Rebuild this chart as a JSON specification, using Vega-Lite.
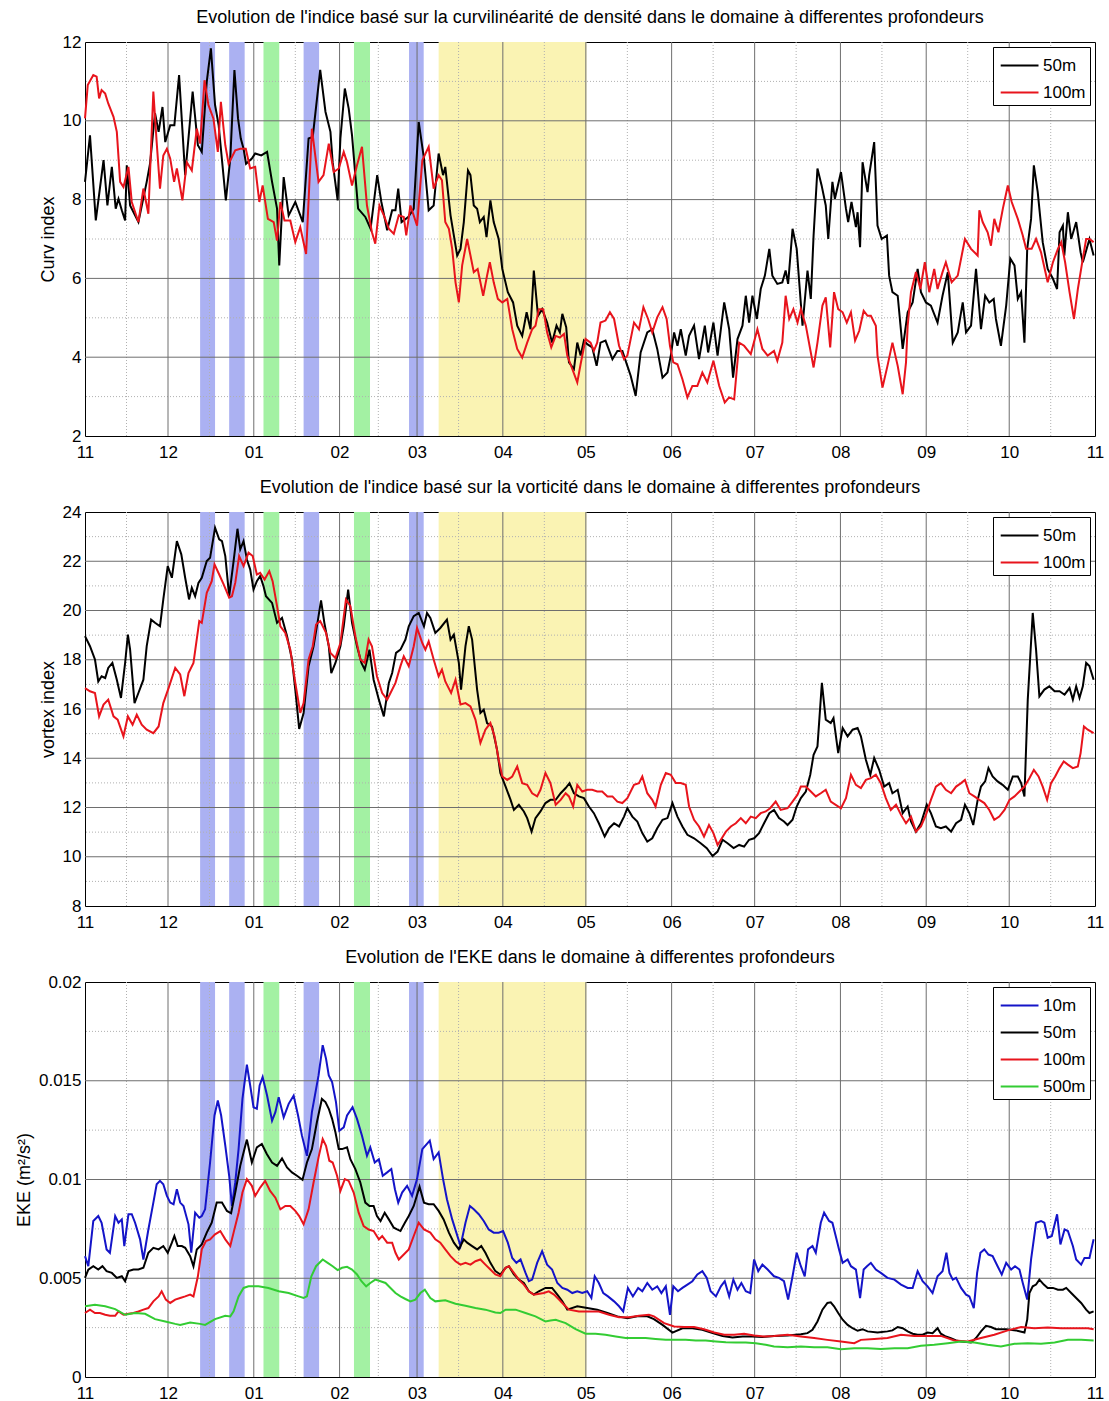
{
"$schema":"https://vega.github.io/schema/vega-lite/v6.json",
"background":"white",
"padding":{"left":14,"top":8,"right":12,"bottom":0},
"spacing":17,
"config":{
"font":"Liberation Sans",
"view":{"stroke":"black","strokeWidth":1},
"axis":{"grid":false,"ticks":false,"domain":false,"labelColor":"black","labelFontSize":17,"titleColor":"black","titleFontSize":18,"titleFontWeight":"normal","labelFlush":false,"labelOverlap":false},
"title":{"fontSize":18,"fontWeight":"normal","color":"black","offset":6},
"legend":{"orient":"top-right","offset":5,"padding":4,"strokeColor":"black","fillColor":"white","symbolType":"M-0.8,0H2","symbolSize":729,"symbolStrokeWidth":2,"labelFontSize":17,"labelColor":"black","rowPadding":4,"labelOffset":17}
},
"resolve":{"scale":{"color":"independent"}},
"datasets":{
"bands":[{"d":41.6,"d2":47.0,"k":"b"},{"d":52.1,"d2":57.7,"k":"b"},{"d":64.5,"d2":70.2,"k":"g"},{"d":79.0,"d2":84.6,"k":"b"},{"d":97.2,"d2":103.0,"k":"g"},{"d":117.1,"d2":122.4,"k":"b"},{"d":127.8,"d2":181.2,"k":"y"}],
"vmaj":[{"d":30},{"d":61},{"d":92},{"d":120},{"d":151},{"d":181},{"d":212},{"d":242},{"d":273},{"d":304},{"d":334}],
"vmin":[{"d":15},{"d":45},{"d":76},{"d":106},{"d":135},{"d":166},{"d":196},{"d":227},{"d":257},{"d":288},{"d":319},{"d":349}],
"p1":[
{"s":"50m","d":0,"v":8.45},{"s":"50m","d":1.8,"v":9.63},{"s":"50m","d":3.9,"v":7.47},{"s":"50m","d":6.7,"v":9.0},{"s":"50m","d":8.1,"v":7.85},{"s":"50m","d":9.7,"v":8.83},{"s":"50m","d":11.1,"v":7.77},{"s":"50m","d":12.1,"v":8.02},{"s":"50m","d":13.3,"v":7.73},{"s":"50m","d":14.5,"v":7.47},{"s":"50m","d":15.1,"v":8.87},{"s":"50m","d":16.3,"v":7.85},{"s":"50m","d":19.3,"v":7.43},{"s":"50m","d":22.3,"v":8.45},{"s":"50m","d":23.5,"v":8.91},{"s":"50m","d":25.3,"v":10.19},{"s":"50m","d":26.6,"v":9.72},{"s":"50m","d":28.0,"v":10.35},{"s":"50m","d":29.0,"v":9.46},{"s":"50m","d":30.8,"v":9.89},{"s":"50m","d":32.3,"v":9.89},{"s":"50m","d":34.0,"v":11.16},{"s":"50m","d":36.2,"v":8.62},{"s":"50m","d":38.9,"v":10.74},{"s":"50m","d":40.8,"v":9.38},{"s":"50m","d":42.2,"v":9.21},{"s":"50m","d":44.0,"v":10.99},{"s":"50m","d":45.5,"v":11.84},{"s":"50m","d":47.0,"v":10.4},{"s":"50m","d":48.3,"v":9.89},{"s":"50m","d":50.9,"v":7.98},{"s":"50m","d":52.5,"v":9.04},{"s":"50m","d":54.0,"v":11.29},{"s":"50m","d":55.3,"v":10.06},{"s":"50m","d":56.3,"v":9.55},{"s":"50m","d":57.3,"v":9.29},{"s":"50m","d":58.2,"v":8.91},{"s":"50m","d":60.3,"v":9.04},{"s":"50m","d":61.5,"v":9.17},{"s":"50m","d":63.7,"v":9.12},{"s":"50m","d":65.8,"v":9.21},{"s":"50m","d":67.6,"v":8.45},{"s":"50m","d":69.4,"v":7.77},{"s":"50m","d":70.2,"v":6.33},{"s":"50m","d":71.8,"v":8.57},{"s":"50m","d":73.6,"v":7.6},{"s":"50m","d":76.0,"v":7.94},{"s":"50m","d":78.7,"v":7.43},{"s":"50m","d":80.8,"v":9.55},{"s":"50m","d":82.3,"v":9.59},{"s":"50m","d":85.0,"v":11.29},{"s":"50m","d":86.9,"v":10.23},{"s":"50m","d":88.7,"v":9.72},{"s":"50m","d":89.5,"v":8.95},{"s":"50m","d":91.3,"v":7.98},{"s":"50m","d":92.3,"v":9.55},{"s":"50m","d":93.9,"v":10.82},{"s":"50m","d":95.3,"v":10.31},{"s":"50m","d":96.5,"v":9.63},{"s":"50m","d":98.7,"v":7.77},{"s":"50m","d":101.3,"v":7.56},{"s":"50m","d":103.2,"v":7.26},{"s":"50m","d":105.6,"v":8.62},{"s":"50m","d":107.1,"v":7.94},{"s":"50m","d":109.2,"v":7.22},{"s":"50m","d":111.0,"v":7.73},{"s":"50m","d":112.2,"v":7.73},{"s":"50m","d":113.2,"v":8.28},{"s":"50m","d":114.4,"v":7.43},{"s":"50m","d":116.8,"v":7.56},{"s":"50m","d":118.8,"v":7.77},{"s":"50m","d":120.6,"v":9.97},{"s":"50m","d":122.5,"v":9.04},
{"s":"50m","d":124.2,"v":7.73},{"s":"50m","d":126.0,"v":7.85},{"s":"50m","d":127.8,"v":9.17},{"s":"50m","d":129.4,"v":8.62},{"s":"50m","d":130.2,"v":8.83},{"s":"50m","d":132.1,"v":7.6},{"s":"50m","d":134.5,"v":6.58},{"s":"50m","d":135.7,"v":6.75},{"s":"50m","d":136.9,"v":7.43},{"s":"50m","d":138.4,"v":8.74},{"s":"50m","d":139.3,"v":8.62},{"s":"50m","d":140.5,"v":7.85},{"s":"50m","d":141.7,"v":7.77},{"s":"50m","d":142.7,"v":7.43},{"s":"50m","d":144.1,"v":7.56},{"s":"50m","d":145.1,"v":7.05},{"s":"50m","d":146.5,"v":7.98},{"s":"50m","d":147.7,"v":7.43},{"s":"50m","d":149.5,"v":7.0},{"s":"50m","d":150.8,"v":6.24},{"s":"50m","d":152.8,"v":5.65},{"s":"50m","d":154.7,"v":5.39},{"s":"50m","d":156.2,"v":4.8},{"s":"50m","d":158.0,"v":4.54},{"s":"50m","d":159.6,"v":5.14},{"s":"50m","d":161.0,"v":4.71},{"s":"50m","d":162.2,"v":6.2},{"s":"50m","d":163.7,"v":5.05},{"s":"50m","d":165.2,"v":5.22},{"s":"50m","d":167.0,"v":4.88},{"s":"50m","d":168.8,"v":4.37},{"s":"50m","d":170.4,"v":4.8},{"s":"50m","d":171.6,"v":4.63},{"s":"50m","d":172.5,"v":5.1},{"s":"50m","d":173.9,"v":4.76},{"s":"50m","d":174.9,"v":3.87},{"s":"50m","d":176.7,"v":3.7},{"s":"50m","d":177.9,"v":4.37},{"s":"50m","d":179.1,"v":4.04},{"s":"50m","d":180.3,"v":4.42},{"s":"50m","d":181.5,"v":4.33},{"s":"50m","d":183.3,"v":4.25},{"s":"50m","d":184.9,"v":3.78},{"s":"50m","d":186.3,"v":4.37},{"s":"50m","d":188.1,"v":4.42},{"s":"50m","d":190.6,"v":3.95},{"s":"50m","d":192.4,"v":4.16},{"s":"50m","d":194.2,"v":4.16},{"s":"50m","d":196.0,"v":3.78},{"s":"50m","d":197.2,"v":3.53},{"s":"50m","d":199.0,"v":3.02},{"s":"50m","d":200.8,"v":4.12},{"s":"50m","d":203.2,"v":4.63},{"s":"50m","d":205.0,"v":4.71},{"s":"50m","d":206.8,"v":4.21},{"s":"50m","d":208.7,"v":3.48},{"s":"50m","d":210.5,"v":3.61},{"s":"50m","d":211.7,"v":4.04},{"s":"50m","d":212.9,"v":4.63},{"s":"50m","d":214.1,"v":4.29},{"s":"50m","d":215.3,"v":4.71},{"s":"50m","d":217.1,"v":4.04},{"s":"50m","d":218.3,"v":4.54},{"s":"50m","d":220.1,"v":4.8},{"s":"50m","d":221.9,"v":3.95},{"s":"50m","d":224.0,"v":4.8},{"s":"50m","d":225.2,"v":4.12},{"s":"50m","d":227.1,"v":4.88},{"s":"50m","d":228.6,"v":4.04},{"s":"50m","d":231.0,"v":5.39},{"s":"50m","d":232.8,"v":4.71},{"s":"50m","d":234.2,"v":3.48},{"s":"50m","d":235.8,"v":4.46},{"s":"50m","d":237.6,"v":4.8},{"s":"50m","d":238.8,"v":5.56},{"s":"50m","d":240.0,"v":4.88},{"s":"50m","d":241.2,"v":5.56},{"s":"50m","d":242.8,"v":4.97},{"s":"50m","d":244.2,"v":5.73},{"s":"50m","d":245.7,"v":6.07},{"s":"50m","d":247.3,"v":6.75},{"s":"50m","d":248.4,"v":6.07},
{"s":"50m","d":250.2,"v":5.86},{"s":"50m","d":252.0,"v":5.9},{"s":"50m","d":253.2,"v":6.2},{"s":"50m","d":254.1,"v":5.86},{"s":"50m","d":255.7,"v":7.26},{"s":"50m","d":257.2,"v":6.75},{"s":"50m","d":259.3,"v":4.8},{"s":"50m","d":261.1,"v":6.2},{"s":"50m","d":262.3,"v":5.48},{"s":"50m","d":263.3,"v":7.09},{"s":"50m","d":264.7,"v":8.79},{"s":"50m","d":266.2,"v":8.36},{"s":"50m","d":267.7,"v":7.85},{"s":"50m","d":268.6,"v":7.0},{"s":"50m","d":270.1,"v":8.45},{"s":"50m","d":271.0,"v":8.02},{"s":"50m","d":273.2,"v":8.7},{"s":"50m","d":275.0,"v":7.77},{"s":"50m","d":275.8,"v":7.43},{"s":"50m","d":277.0,"v":7.94},{"s":"50m","d":278.6,"v":7.3},{"s":"50m","d":279.2,"v":7.68},{"s":"50m","d":280.1,"v":6.79},{"s":"50m","d":281.0,"v":8.95},{"s":"50m","d":282.8,"v":8.19},{"s":"50m","d":283.4,"v":8.62},{"s":"50m","d":285.2,"v":9.46},{"s":"50m","d":286.4,"v":7.34},{"s":"50m","d":287.9,"v":7.0},{"s":"50m","d":289.8,"v":7.09},{"s":"50m","d":290.6,"v":6.07},{"s":"50m","d":291.8,"v":5.65},{"s":"50m","d":293.7,"v":5.56},{"s":"50m","d":295.5,"v":4.21},{"s":"50m","d":297.3,"v":5.14},{"s":"50m","d":299.1,"v":5.39},{"s":"50m","d":300.9,"v":6.24},{"s":"50m","d":302.1,"v":5.65},{"s":"50m","d":303.9,"v":5.39},{"s":"50m","d":305.7,"v":5.31},{"s":"50m","d":308.1,"v":4.88},{"s":"50m","d":309.9,"v":5.56},{"s":"50m","d":311.8,"v":6.16},{"s":"50m","d":313.6,"v":4.37},{"s":"50m","d":315.4,"v":4.63},{"s":"50m","d":317.2,"v":5.39},{"s":"50m","d":318.4,"v":4.63},{"s":"50m","d":320.2,"v":4.8},{"s":"50m","d":322.0,"v":6.24},{"s":"50m","d":323.8,"v":4.71},{"s":"50m","d":325.3,"v":5.56},{"s":"50m","d":326.8,"v":5.39},{"s":"50m","d":328.4,"v":5.48},{"s":"50m","d":329.2,"v":4.97},{"s":"50m","d":331.0,"v":4.29},{"s":"50m","d":332.9,"v":5.31},{"s":"50m","d":334.4,"v":6.5},{"s":"50m","d":335.9,"v":6.33},{"s":"50m","d":337.1,"v":5.48},{"s":"50m","d":338.3,"v":5.65},{"s":"50m","d":339.5,"v":4.37},{"s":"50m","d":340.5,"v":6.75},{"s":"50m","d":341.9,"v":7.51},{"s":"50m","d":342.9,"v":8.87},{"s":"50m","d":344.3,"v":8.19},{"s":"50m","d":346.1,"v":6.92},{"s":"50m","d":347.9,"v":6.24},{"s":"50m","d":349.8,"v":5.99},{"s":"50m","d":351.3,"v":5.73},{"s":"50m","d":352.2,"v":7.17},{"s":"50m","d":353.4,"v":7.34},{"s":"50m","d":353.9,"v":6.58},{"s":"50m","d":355.2,"v":7.68},{"s":"50m","d":356.4,"v":7.0},{"s":"50m","d":358.2,"v":7.43},{"s":"50m","d":359.8,"v":6.66},{"s":"50m","d":360.6,"v":6.41},{"s":"50m","d":363.0,"v":7.0},{"s":"50m","d":364.5,"v":6.58},
{"s":"100m","d":0,"v":10.06},{"s":"100m","d":1.0,"v":10.91},{"s":"100m","d":3.0,"v":11.16},{"s":"100m","d":4.2,"v":11.12},{"s":"100m","d":5.1,"v":10.57},{"s":"100m","d":6.0,"v":10.78},{"s":"100m","d":7.3,"v":10.69},{"s":"100m","d":8.4,"v":10.44},{"s":"100m","d":10.3,"v":10.1},{"s":"100m","d":11.5,"v":9.72},{"s":"100m","d":12.7,"v":8.45},{"s":"100m","d":13.9,"v":8.32},{"s":"100m","d":15.7,"v":8.83},{"s":"100m","d":16.9,"v":7.94},{"s":"100m","d":19.3,"v":7.43},{"s":"100m","d":21.1,"v":8.28},{"s":"100m","d":22.9,"v":7.64},{"s":"100m","d":24.7,"v":10.74},{"s":"100m","d":25.9,"v":9.46},{"s":"100m","d":27.1,"v":8.28},{"s":"100m","d":28.3,"v":9.12},{"s":"100m","d":29.6,"v":9.29},{"s":"100m","d":30.8,"v":9.04},{"s":"100m","d":32.2,"v":8.45},{"s":"100m","d":33.2,"v":8.79},{"s":"100m","d":35.2,"v":7.98},{"s":"100m","d":36.8,"v":8.95},{"s":"100m","d":38.6,"v":8.74},{"s":"100m","d":40.4,"v":9.8},{"s":"100m","d":41.6,"v":9.42},{"s":"100m","d":43.2,"v":11.03},{"s":"100m","d":44.6,"v":10.4},{"s":"100m","d":46.4,"v":10.06},{"s":"100m","d":48.0,"v":9.21},{"s":"100m","d":49.1,"v":10.48},{"s":"100m","d":50.7,"v":9.38},{"s":"100m","d":51.9,"v":8.91},{"s":"100m","d":54.3,"v":9.25},{"s":"100m","d":56.1,"v":9.29},{"s":"100m","d":58.1,"v":9.29},{"s":"100m","d":59.7,"v":8.79},{"s":"100m","d":61.5,"v":8.83},{"s":"100m","d":63.0,"v":7.94},{"s":"100m","d":64.2,"v":8.36},{"s":"100m","d":66.1,"v":7.51},{"s":"100m","d":68.2,"v":7.43},{"s":"100m","d":69.4,"v":6.96},{"s":"100m","d":70.6,"v":7.94},{"s":"100m","d":72.1,"v":7.47},{"s":"100m","d":74.2,"v":7.47},{"s":"100m","d":76.0,"v":6.92},{"s":"100m","d":77.8,"v":7.3},{"s":"100m","d":79.9,"v":6.62},{"s":"100m","d":82.0,"v":9.8},{"s":"100m","d":84.4,"v":8.45},{"s":"100m","d":86.2,"v":8.62},{"s":"100m","d":88.1,"v":9.42},{"s":"100m","d":89.9,"v":8.7},{"s":"100m","d":91.7,"v":8.79},{"s":"100m","d":93.5,"v":9.21},{"s":"100m","d":94.7,"v":8.95},{"s":"100m","d":96.5,"v":8.36},{"s":"100m","d":98.3,"v":8.87},{"s":"100m","d":100.1,"v":9.34},{"s":"100m","d":101.9,"v":7.85},{"s":"100m","d":103.7,"v":7.17},{"s":"100m","d":104.9,"v":6.88},{"s":"100m","d":106.4,"v":7.85},{"s":"100m","d":108.0,"v":7.6},{"s":"100m","d":109.8,"v":7.26},{"s":"100m","d":111.6,"v":7.13},{"s":"100m","d":113.4,"v":7.6},{"s":"100m","d":115.2,"v":7.56},{"s":"100m","d":116.1,"v":7.09},{"s":"100m","d":117.6,"v":7.85},{"s":"100m","d":120.0,"v":7.34},{"s":"100m","d":121.9,"v":9.0},
{"s":"100m","d":124.2,"v":9.34},{"s":"100m","d":126.0,"v":8.28},{"s":"100m","d":127.8,"v":8.62},{"s":"100m","d":129.0,"v":8.49},{"s":"100m","d":130.2,"v":7.43},{"s":"100m","d":131.5,"v":7.26},{"s":"100m","d":132.7,"v":6.75},{"s":"100m","d":133.9,"v":5.9},{"s":"100m","d":135.1,"v":5.39},{"s":"100m","d":136.3,"v":6.33},{"s":"100m","d":138.1,"v":7.0},{"s":"100m","d":139.3,"v":6.58},{"s":"100m","d":140.5,"v":6.16},{"s":"100m","d":141.9,"v":6.24},{"s":"100m","d":143.9,"v":5.56},{"s":"100m","d":145.3,"v":6.07},{"s":"100m","d":146.3,"v":6.41},{"s":"100m","d":147.7,"v":5.9},{"s":"100m","d":149.2,"v":5.48},{"s":"100m","d":150.8,"v":5.39},{"s":"100m","d":152.6,"v":5.48},{"s":"100m","d":154.4,"v":4.71},{"s":"100m","d":156.2,"v":4.21},{"s":"100m","d":158.0,"v":3.99},{"s":"100m","d":159.8,"v":4.37},{"s":"100m","d":161.6,"v":4.71},{"s":"100m","d":162.8,"v":4.8},{"s":"100m","d":164.0,"v":5.22},{"s":"100m","d":165.6,"v":5.22},{"s":"100m","d":167.0,"v":4.63},{"s":"100m","d":168.5,"v":4.25},{"s":"100m","d":170.1,"v":4.54},{"s":"100m","d":171.6,"v":4.5},{"s":"100m","d":173.1,"v":4.59},{"s":"100m","d":174.3,"v":4.04},{"s":"100m","d":176.1,"v":3.7},{"s":"100m","d":177.9,"v":3.36},{"s":"100m","d":179.1,"v":3.82},{"s":"100m","d":180.9,"v":4.46},{"s":"100m","d":182.7,"v":4.37},{"s":"100m","d":183.9,"v":4.16},{"s":"100m","d":185.1,"v":4.37},{"s":"100m","d":186.3,"v":4.88},{"s":"100m","d":188.1,"v":4.93},{"s":"100m","d":189.7,"v":5.14},{"s":"100m","d":191.2,"v":4.97},{"s":"100m","d":193.0,"v":4.29},{"s":"100m","d":194.8,"v":3.95},{"s":"100m","d":196.0,"v":4.04},{"s":"100m","d":198.4,"v":4.88},{"s":"100m","d":200.2,"v":4.71},{"s":"100m","d":201.8,"v":5.27},{"s":"100m","d":203.5,"v":4.97},{"s":"100m","d":205.0,"v":4.63},{"s":"100m","d":206.8,"v":5.01},{"s":"100m","d":208.7,"v":5.27},{"s":"100m","d":210.2,"v":4.97},{"s":"100m","d":211.4,"v":4.29},{"s":"100m","d":212.6,"v":3.87},{"s":"100m","d":214.1,"v":3.82},{"s":"100m","d":215.9,"v":3.44},{"s":"100m","d":217.7,"v":2.98},{"s":"100m","d":219.5,"v":3.27},{"s":"100m","d":221.3,"v":3.27},{"s":"100m","d":223.1,"v":3.61},{"s":"100m","d":224.9,"v":3.36},{"s":"100m","d":227.1,"v":3.91},{"s":"100m","d":229.2,"v":3.27},{"s":"100m","d":231.2,"v":2.85},{"s":"100m","d":232.8,"v":2.98},{"s":"100m","d":234.6,"v":2.93},{"s":"100m","d":236.4,"v":4.37},{"s":"100m","d":238.2,"v":4.29},{"s":"100m","d":240.6,"v":4.08},{"s":"100m","d":243.0,"v":4.71},{"s":"100m","d":244.8,"v":4.21},{"s":"100m","d":246.7,"v":4.04},
{"s":"100m","d":249.0,"v":4.16},{"s":"100m","d":250.2,"v":3.91},{"s":"100m","d":252.0,"v":4.37},{"s":"100m","d":253.2,"v":5.56},{"s":"100m","d":254.5,"v":4.97},{"s":"100m","d":256.0,"v":5.22},{"s":"100m","d":257.5,"v":4.88},{"s":"100m","d":258.7,"v":5.22},{"s":"100m","d":260.5,"v":4.8},{"s":"100m","d":263.3,"v":3.74},{"s":"100m","d":264.7,"v":4.37},{"s":"100m","d":266.5,"v":5.31},{"s":"100m","d":267.7,"v":5.52},{"s":"100m","d":269.3,"v":4.25},{"s":"100m","d":270.7,"v":5.65},{"s":"100m","d":272.2,"v":5.22},{"s":"100m","d":273.8,"v":5.14},{"s":"100m","d":275.3,"v":4.88},{"s":"100m","d":276.8,"v":5.14},{"s":"100m","d":278.3,"v":4.42},{"s":"100m","d":279.8,"v":4.67},{"s":"100m","d":281.4,"v":5.18},{"s":"100m","d":282.8,"v":5.05},{"s":"100m","d":284.0,"v":5.05},{"s":"100m","d":285.8,"v":4.8},{"s":"100m","d":286.4,"v":4.04},{"s":"100m","d":288.2,"v":3.23},{"s":"100m","d":290.0,"v":3.78},{"s":"100m","d":291.8,"v":4.37},{"s":"100m","d":293.7,"v":3.78},{"s":"100m","d":295.5,"v":3.06},{"s":"100m","d":296.7,"v":3.87},{"s":"100m","d":297.3,"v":4.8},{"s":"100m","d":298.5,"v":5.65},{"s":"100m","d":300.3,"v":6.16},{"s":"100m","d":301.9,"v":5.73},{"s":"100m","d":303.5,"v":6.41},{"s":"100m","d":305.1,"v":5.65},{"s":"100m","d":306.9,"v":6.24},{"s":"100m","d":308.1,"v":5.73},{"s":"100m","d":309.9,"v":6.16},{"s":"100m","d":311.1,"v":6.41},{"s":"100m","d":313.2,"v":5.9},{"s":"100m","d":315.4,"v":6.07},{"s":"100m","d":318.0,"v":7.0},{"s":"100m","d":320.2,"v":6.75},{"s":"100m","d":322.6,"v":6.58},{"s":"100m","d":323.2,"v":7.73},{"s":"100m","d":324.4,"v":7.43},{"s":"100m","d":326.2,"v":7.17},{"s":"100m","d":327.4,"v":6.83},{"s":"100m","d":328.6,"v":7.51},{"s":"100m","d":330.1,"v":7.17},{"s":"100m","d":331.7,"v":7.77},{"s":"100m","d":333.5,"v":8.36},{"s":"100m","d":334.9,"v":7.94},{"s":"100m","d":337.1,"v":7.51},{"s":"100m","d":338.9,"v":7.09},{"s":"100m","d":340.1,"v":6.75},{"s":"100m","d":342.1,"v":6.75},{"s":"100m","d":343.7,"v":7.0},{"s":"100m","d":345.5,"v":6.66},{"s":"100m","d":347.9,"v":5.9},{"s":"100m","d":349.8,"v":6.41},{"s":"100m","d":351.6,"v":6.75},{"s":"100m","d":352.8,"v":6.92},{"s":"100m","d":354.2,"v":6.41},{"s":"100m","d":355.8,"v":5.65},{"s":"100m","d":357.4,"v":4.97},{"s":"100m","d":358.8,"v":5.73},{"s":"100m","d":360.2,"v":6.33},{"s":"100m","d":361.8,"v":7.0},{"s":"100m","d":363.0,"v":7.0},{"s":"100m","d":364.5,"v":6.92}
],
"p2":[
{"s":"50m","d":0,"v":18.96},{"s":"50m","d":1.8,"v":18.55},{"s":"50m","d":3.6,"v":18.01},{"s":"50m","d":4.8,"v":17.12},{"s":"50m","d":6.0,"v":17.33},{"s":"50m","d":7.3,"v":17.26},{"s":"50m","d":8.4,"v":17.67},{"s":"50m","d":9.9,"v":17.87},{"s":"50m","d":11.5,"v":17.19},{"s":"50m","d":13.0,"v":16.45},{"s":"50m","d":14.5,"v":17.87},{"s":"50m","d":15.5,"v":19.02},{"s":"50m","d":16.3,"v":18.41},{"s":"50m","d":17.9,"v":16.24},{"s":"50m","d":19.3,"v":16.65},{"s":"50m","d":21.1,"v":17.19},{"s":"50m","d":22.3,"v":18.55},{"s":"50m","d":23.9,"v":19.63},{"s":"50m","d":25.3,"v":19.5},{"s":"50m","d":27.1,"v":19.36},{"s":"50m","d":28.3,"v":20.45},{"s":"50m","d":29.9,"v":21.8},{"s":"50m","d":31.4,"v":21.33},{"s":"50m","d":33.2,"v":22.82},{"s":"50m","d":34.8,"v":22.28},{"s":"50m","d":36.2,"v":21.33},{"s":"50m","d":37.6,"v":20.45},{"s":"50m","d":38.6,"v":20.92},{"s":"50m","d":39.8,"v":20.58},{"s":"50m","d":41.0,"v":21.12},{"s":"50m","d":42.2,"v":21.33},{"s":"50m","d":44.0,"v":22.01},{"s":"50m","d":45.2,"v":22.14},{"s":"50m","d":47.0,"v":23.36},{"s":"50m","d":48.5,"v":22.89},{"s":"50m","d":49.5,"v":22.82},{"s":"50m","d":50.7,"v":22.21},{"s":"50m","d":52.1,"v":20.58},{"s":"50m","d":53.7,"v":22.01},{"s":"50m","d":55.1,"v":23.32},{"s":"50m","d":56.1,"v":22.48},{"s":"50m","d":57.3,"v":22.82},{"s":"50m","d":58.5,"v":22.07},{"s":"50m","d":59.7,"v":21.67},{"s":"50m","d":60.9,"v":20.85},{"s":"50m","d":62.1,"v":21.19},{"s":"50m","d":63.3,"v":21.4},{"s":"50m","d":64.5,"v":20.99},{"s":"50m","d":65.4,"v":20.58},{"s":"50m","d":67.6,"v":20.31},{"s":"50m","d":69.4,"v":19.5},{"s":"50m","d":71.2,"v":19.7},{"s":"50m","d":73.0,"v":18.96},{"s":"50m","d":74.8,"v":18.01},{"s":"50m","d":76.0,"v":16.79},{"s":"50m","d":77.4,"v":15.19},{"s":"50m","d":79.0,"v":15.84},{"s":"50m","d":80.8,"v":17.74},{"s":"50m","d":82.6,"v":18.55},{"s":"50m","d":84.2,"v":19.63},{"s":"50m","d":85.3,"v":20.41},{"s":"50m","d":86.5,"v":19.5},{"s":"50m","d":88.1,"v":18.55},{"s":"50m","d":89.0,"v":17.46},{"s":"50m","d":90.5,"v":17.87},{"s":"50m","d":92.3,"v":18.55},{"s":"50m","d":93.5,"v":19.36},{"s":"50m","d":95.1,"v":20.85},{"s":"50m","d":96.5,"v":19.5},{"s":"50m","d":98.3,"v":18.55},{"s":"50m","d":99.9,"v":17.87},{"s":"50m","d":101.1,"v":17.6},{"s":"50m","d":102.8,"v":18.41},{"s":"50m","d":104.3,"v":17.19},{"s":"50m","d":106.2,"v":16.38},{"s":"50m","d":108.0,"v":15.7},{"s":"50m","d":109.8,"v":17.06},{"s":"50m","d":111.0,"v":17.46},{"s":"50m","d":112.4,"v":18.28},{"s":"50m","d":114.0,"v":18.41},{"s":"50m","d":115.8,"v":18.82},{"s":"50m","d":117.0,"v":19.36},{"s":"50m","d":118.8,"v":19.77},{"s":"50m","d":120.6,"v":19.9},{"s":"50m","d":122.5,"v":19.36},
{"s":"50m","d":123.6,"v":19.9},{"s":"50m","d":124.8,"v":19.7},{"s":"50m","d":126.6,"v":19.09},{"s":"50m","d":128.4,"v":19.29},{"s":"50m","d":130.8,"v":19.63},{"s":"50m","d":132.1,"v":18.82},{"s":"50m","d":133.3,"v":19.02},{"s":"50m","d":135.1,"v":17.87},{"s":"50m","d":135.9,"v":16.79},{"s":"50m","d":137.5,"v":18.55},{"s":"50m","d":138.7,"v":19.36},{"s":"50m","d":139.9,"v":18.82},{"s":"50m","d":141.7,"v":16.79},{"s":"50m","d":142.9,"v":15.84},{"s":"50m","d":144.1,"v":15.97},{"s":"50m","d":145.3,"v":15.43},{"s":"50m","d":147.1,"v":15.29},{"s":"50m","d":148.9,"v":14.35},{"s":"50m","d":150.1,"v":13.4},{"s":"50m","d":152.0,"v":12.85},{"s":"50m","d":153.8,"v":12.31},{"s":"50m","d":155.0,"v":11.9},{"s":"50m","d":156.8,"v":12.11},{"s":"50m","d":158.6,"v":11.84},{"s":"50m","d":159.8,"v":11.57},{"s":"50m","d":161.4,"v":11.02},{"s":"50m","d":162.8,"v":11.57},{"s":"50m","d":164.6,"v":11.84},{"s":"50m","d":166.4,"v":12.18},{"s":"50m","d":168.2,"v":12.31},{"s":"50m","d":170.1,"v":12.31},{"s":"50m","d":171.9,"v":12.58},{"s":"50m","d":173.7,"v":12.79},{"s":"50m","d":175.1,"v":12.99},{"s":"50m","d":176.7,"v":12.58},{"s":"50m","d":178.5,"v":12.45},{"s":"50m","d":180.3,"v":12.38},{"s":"50m","d":182.1,"v":12.04},{"s":"50m","d":183.9,"v":11.77},{"s":"50m","d":185.7,"v":11.36},{"s":"50m","d":187.8,"v":10.82},{"s":"50m","d":189.4,"v":11.16},{"s":"50m","d":191.2,"v":11.36},{"s":"50m","d":193.0,"v":11.23},{"s":"50m","d":194.8,"v":11.63},{"s":"50m","d":196.0,"v":11.97},{"s":"50m","d":197.8,"v":11.63},{"s":"50m","d":199.6,"v":11.43},{"s":"50m","d":201.4,"v":10.96},{"s":"50m","d":203.2,"v":10.62},{"s":"50m","d":205.0,"v":10.75},{"s":"50m","d":206.8,"v":11.16},{"s":"50m","d":208.7,"v":11.5},{"s":"50m","d":210.5,"v":11.57},{"s":"50m","d":212.3,"v":12.18},{"s":"50m","d":214.1,"v":11.63},{"s":"50m","d":215.9,"v":11.23},{"s":"50m","d":217.7,"v":10.89},{"s":"50m","d":220.1,"v":10.75},{"s":"50m","d":222.5,"v":10.55},{"s":"50m","d":224.7,"v":10.35},{"s":"50m","d":226.8,"v":10.03},{"s":"50m","d":228.6,"v":10.21},{"s":"50m","d":230.4,"v":10.69},{"s":"50m","d":232.2,"v":10.55},{"s":"50m","d":234.4,"v":10.35},{"s":"50m","d":236.4,"v":10.48},{"s":"50m","d":238.2,"v":10.41},{"s":"50m","d":240.0,"v":10.69},{"s":"50m","d":241.8,"v":10.75},{"s":"50m","d":243.6,"v":10.96},{"s":"50m","d":245.4,"v":11.36},{"s":"50m","d":247.3,"v":11.77},
{"s":"50m","d":249.0,"v":11.9},{"s":"50m","d":250.8,"v":11.57},{"s":"50m","d":252.6,"v":11.43},{"s":"50m","d":253.9,"v":11.29},{"s":"50m","d":255.7,"v":11.5},{"s":"50m","d":257.2,"v":12.04},{"s":"50m","d":258.7,"v":12.38},{"s":"50m","d":260.5,"v":12.65},{"s":"50m","d":262.1,"v":13.33},{"s":"50m","d":263.3,"v":14.14},{"s":"50m","d":264.7,"v":14.48},{"s":"50m","d":266.3,"v":17.06},{"s":"50m","d":267.7,"v":15.57},{"s":"50m","d":269.5,"v":15.43},{"s":"50m","d":270.5,"v":15.63},{"s":"50m","d":272.2,"v":14.21},{"s":"50m","d":273.8,"v":15.23},{"s":"50m","d":275.6,"v":14.89},{"s":"50m","d":277.4,"v":15.16},{"s":"50m","d":279.2,"v":15.23},{"s":"50m","d":280.4,"v":14.89},{"s":"50m","d":282.2,"v":13.94},{"s":"50m","d":283.8,"v":13.33},{"s":"50m","d":285.2,"v":14.01},{"s":"50m","d":287.0,"v":13.53},{"s":"50m","d":288.8,"v":12.85},{"s":"50m","d":290.6,"v":12.99},{"s":"50m","d":291.8,"v":12.58},{"s":"50m","d":293.7,"v":12.72},{"s":"50m","d":295.5,"v":11.77},{"s":"50m","d":297.3,"v":12.04},{"s":"50m","d":298.5,"v":11.43},{"s":"50m","d":300.3,"v":11.02},{"s":"50m","d":302.1,"v":11.36},{"s":"50m","d":304.2,"v":12.11},{"s":"50m","d":305.7,"v":11.77},{"s":"50m","d":307.5,"v":11.23},{"s":"50m","d":309.3,"v":11.16},{"s":"50m","d":311.1,"v":11.23},{"s":"50m","d":313.0,"v":11.02},{"s":"50m","d":314.8,"v":11.36},{"s":"50m","d":316.6,"v":11.5},{"s":"50m","d":318.0,"v":12.11},{"s":"50m","d":319.6,"v":11.77},{"s":"50m","d":321.0,"v":11.29},{"s":"50m","d":322.6,"v":12.31},{"s":"50m","d":323.8,"v":12.85},{"s":"50m","d":325.3,"v":13.06},{"s":"50m","d":326.5,"v":13.6},{"s":"50m","d":328.0,"v":13.26},{"s":"50m","d":329.8,"v":13.06},{"s":"50m","d":331.6,"v":12.92},{"s":"50m","d":333.5,"v":12.72},{"s":"50m","d":335.3,"v":13.26},{"s":"50m","d":337.1,"v":13.26},{"s":"50m","d":338.3,"v":12.99},{"s":"50m","d":339.5,"v":12.45},{"s":"50m","d":340.7,"v":16.38},{"s":"50m","d":342.5,"v":19.9},{"s":"50m","d":343.7,"v":18.41},{"s":"50m","d":344.9,"v":16.51},{"s":"50m","d":346.7,"v":16.79},{"s":"50m","d":348.5,"v":16.92},{"s":"50m","d":350.4,"v":16.72},{"s":"50m","d":352.2,"v":16.72},{"s":"50m","d":354.0,"v":16.58},{"s":"50m","d":355.8,"v":16.85},{"s":"50m","d":357.0,"v":16.38},{"s":"50m","d":358.2,"v":16.92},{"s":"50m","d":359.4,"v":16.45},{"s":"50m","d":360.6,"v":16.92},{"s":"50m","d":361.8,"v":17.87},{"s":"50m","d":363.0,"v":17.74},{"s":"50m","d":364.5,"v":17.19},
{"s":"100m","d":0,"v":16.85},{"s":"100m","d":1.8,"v":16.72},{"s":"100m","d":3.6,"v":16.65},{"s":"100m","d":5.1,"v":15.7},{"s":"100m","d":6.7,"v":16.18},{"s":"100m","d":8.4,"v":16.38},{"s":"100m","d":10.3,"v":15.7},{"s":"100m","d":11.8,"v":15.57},{"s":"100m","d":13.9,"v":14.89},{"s":"100m","d":15.5,"v":15.7},{"s":"100m","d":17.2,"v":15.36},{"s":"100m","d":18.7,"v":15.77},{"s":"100m","d":20.5,"v":15.36},{"s":"100m","d":22.3,"v":15.16},{"s":"100m","d":24.7,"v":15.02},{"s":"100m","d":26.6,"v":15.29},{"s":"100m","d":28.3,"v":16.24},{"s":"100m","d":30.2,"v":16.85},{"s":"100m","d":32.6,"v":17.67},{"s":"100m","d":34.4,"v":17.4},{"s":"100m","d":35.9,"v":16.52},{"s":"100m","d":37.4,"v":17.46},{"s":"100m","d":39.2,"v":17.87},{"s":"100m","d":41.3,"v":19.57},{"s":"100m","d":42.2,"v":19.5},{"s":"100m","d":44.0,"v":20.72},{"s":"100m","d":45.8,"v":21.19},{"s":"100m","d":46.8,"v":21.87},{"s":"100m","d":48.5,"v":21.46},{"s":"100m","d":50.1,"v":21.06},{"s":"100m","d":52.1,"v":20.52},{"s":"100m","d":53.1,"v":20.58},{"s":"100m","d":54.3,"v":21.12},{"s":"100m","d":55.7,"v":22.21},{"s":"100m","d":57.3,"v":21.8},{"s":"100m","d":59.1,"v":22.35},{"s":"100m","d":60.6,"v":22.21},{"s":"100m","d":62.1,"v":21.46},{"s":"100m","d":63.3,"v":21.53},{"s":"100m","d":64.9,"v":21.26},{"s":"100m","d":66.6,"v":21.6},{"s":"100m","d":67.8,"v":21.19},{"s":"100m","d":69.4,"v":20.18},{"s":"100m","d":70.6,"v":19.36},{"s":"100m","d":72.4,"v":19.09},{"s":"100m","d":74.2,"v":18.41},{"s":"100m","d":76.0,"v":17.06},{"s":"100m","d":77.8,"v":15.84},{"s":"100m","d":79.0,"v":16.24},{"s":"100m","d":80.8,"v":18.01},{"s":"100m","d":82.3,"v":18.55},{"s":"100m","d":83.5,"v":19.43},{"s":"100m","d":85.0,"v":19.57},{"s":"100m","d":87.1,"v":19.09},{"s":"100m","d":88.7,"v":18.28},{"s":"100m","d":90.5,"v":18.07},{"s":"100m","d":92.3,"v":18.68},{"s":"100m","d":94.3,"v":20.45},{"s":"100m","d":95.9,"v":20.18},{"s":"100m","d":97.7,"v":18.96},{"s":"100m","d":99.5,"v":18.01},{"s":"100m","d":101.1,"v":17.87},{"s":"100m","d":102.5,"v":18.82},{"s":"100m","d":103.7,"v":18.55},{"s":"100m","d":105.5,"v":17.33},{"s":"100m","d":107.4,"v":16.65},{"s":"100m","d":109.2,"v":16.38},{"s":"100m","d":110.4,"v":16.65},{"s":"100m","d":112.2,"v":17.06},{"s":"100m","d":114.0,"v":17.74},{"s":"100m","d":115.2,"v":18.14},{"s":"100m","d":117.0,"v":17.74},{"s":"100m","d":118.8,"v":18.55},{"s":"100m","d":120.0,"v":19.29},{"s":"100m","d":121.9,"v":18.68},
{"s":"100m","d":123.0,"v":18.41},{"s":"100m","d":124.2,"v":18.75},{"s":"100m","d":126.0,"v":18.01},{"s":"100m","d":127.8,"v":17.33},{"s":"100m","d":129.0,"v":17.6},{"s":"100m","d":130.2,"v":17.12},{"s":"100m","d":132.3,"v":16.65},{"s":"100m","d":133.9,"v":17.19},{"s":"100m","d":135.7,"v":16.18},{"s":"100m","d":137.5,"v":16.24},{"s":"100m","d":139.3,"v":16.11},{"s":"100m","d":141.1,"v":15.57},{"s":"100m","d":142.9,"v":14.62},{"s":"100m","d":144.7,"v":15.16},{"s":"100m","d":146.5,"v":15.43},{"s":"100m","d":148.0,"v":14.89},{"s":"100m","d":149.5,"v":13.94},{"s":"100m","d":150.8,"v":13.26},{"s":"100m","d":152.6,"v":13.12},{"s":"100m","d":154.4,"v":13.26},{"s":"100m","d":156.2,"v":13.67},{"s":"100m","d":158.0,"v":12.99},{"s":"100m","d":159.8,"v":12.92},{"s":"100m","d":161.6,"v":12.58},{"s":"100m","d":163.4,"v":12.45},{"s":"100m","d":164.6,"v":12.72},{"s":"100m","d":166.4,"v":13.4},{"s":"100m","d":168.2,"v":12.99},{"s":"100m","d":170.1,"v":12.11},{"s":"100m","d":171.9,"v":12.31},{"s":"100m","d":173.7,"v":12.58},{"s":"100m","d":174.9,"v":12.45},{"s":"100m","d":176.4,"v":12.04},{"s":"100m","d":177.9,"v":12.92},{"s":"100m","d":179.7,"v":12.65},{"s":"100m","d":181.5,"v":12.72},{"s":"100m","d":183.3,"v":12.72},{"s":"100m","d":185.1,"v":12.65},{"s":"100m","d":186.9,"v":12.65},{"s":"100m","d":188.8,"v":12.45},{"s":"100m","d":190.6,"v":12.45},{"s":"100m","d":192.4,"v":12.24},{"s":"100m","d":194.2,"v":12.18},{"s":"100m","d":196.0,"v":12.38},{"s":"100m","d":198.4,"v":12.92},{"s":"100m","d":200.2,"v":12.99},{"s":"100m","d":201.4,"v":13.26},{"s":"100m","d":203.2,"v":12.58},{"s":"100m","d":205.0,"v":12.31},{"s":"100m","d":206.2,"v":12.04},{"s":"100m","d":208.1,"v":12.92},{"s":"100m","d":209.9,"v":13.4},{"s":"100m","d":211.7,"v":13.33},{"s":"100m","d":213.5,"v":12.99},{"s":"100m","d":215.3,"v":12.99},{"s":"100m","d":217.1,"v":12.92},{"s":"100m","d":218.3,"v":12.04},{"s":"100m","d":220.1,"v":11.5},{"s":"100m","d":221.9,"v":11.23},{"s":"100m","d":223.7,"v":10.82},{"s":"100m","d":225.5,"v":11.29},{"s":"100m","d":227.1,"v":10.96},{"s":"100m","d":228.6,"v":10.48},{"s":"100m","d":229.8,"v":10.69},{"s":"100m","d":231.6,"v":11.02},{"s":"100m","d":233.4,"v":11.23},{"s":"100m","d":235.2,"v":11.36},{"s":"100m","d":237.0,"v":11.57},{"s":"100m","d":238.8,"v":11.36},{"s":"100m","d":240.6,"v":11.63},{"s":"100m","d":242.4,"v":11.57},{"s":"100m","d":244.2,"v":11.77},{"s":"100m","d":246.0,"v":11.84},{"s":"100m","d":247.6,"v":11.97},
{"s":"100m","d":249.6,"v":12.24},{"s":"100m","d":251.4,"v":11.9},{"s":"100m","d":253.9,"v":11.97},{"s":"100m","d":255.7,"v":12.24},{"s":"100m","d":257.5,"v":12.52},{"s":"100m","d":258.7,"v":12.85},{"s":"100m","d":260.5,"v":12.85},{"s":"100m","d":262.3,"v":12.65},{"s":"100m","d":264.1,"v":12.45},{"s":"100m","d":265.9,"v":12.58},{"s":"100m","d":267.7,"v":12.72},{"s":"100m","d":269.5,"v":12.24},{"s":"100m","d":271.3,"v":12.11},{"s":"100m","d":273.2,"v":11.97},{"s":"100m","d":275.0,"v":12.38},{"s":"100m","d":276.8,"v":13.33},{"s":"100m","d":278.6,"v":12.92},{"s":"100m","d":280.4,"v":12.79},{"s":"100m","d":282.2,"v":13.12},{"s":"100m","d":284.0,"v":13.19},{"s":"100m","d":285.8,"v":13.33},{"s":"100m","d":287.6,"v":12.99},{"s":"100m","d":289.4,"v":12.38},{"s":"100m","d":291.2,"v":11.9},{"s":"100m","d":293.1,"v":12.11},{"s":"100m","d":294.9,"v":11.7},{"s":"100m","d":296.7,"v":11.36},{"s":"100m","d":298.5,"v":11.63},{"s":"100m","d":300.3,"v":11.02},{"s":"100m","d":302.1,"v":11.23},{"s":"100m","d":303.9,"v":11.7},{"s":"100m","d":305.7,"v":12.31},{"s":"100m","d":307.5,"v":12.85},{"s":"100m","d":309.3,"v":12.99},{"s":"100m","d":311.1,"v":12.72},{"s":"100m","d":313.0,"v":12.58},{"s":"100m","d":314.8,"v":12.85},{"s":"100m","d":316.6,"v":12.99},{"s":"100m","d":318.0,"v":13.12},{"s":"100m","d":319.6,"v":12.58},{"s":"100m","d":321.4,"v":12.45},{"s":"100m","d":323.2,"v":12.31},{"s":"100m","d":325.0,"v":12.18},{"s":"100m","d":326.8,"v":11.9},{"s":"100m","d":328.6,"v":11.5},{"s":"100m","d":330.4,"v":11.63},{"s":"100m","d":332.3,"v":11.9},{"s":"100m","d":334.1,"v":12.31},{"s":"100m","d":335.9,"v":12.45},{"s":"100m","d":337.7,"v":12.65},{"s":"100m","d":339.5,"v":12.85},{"s":"100m","d":341.3,"v":13.19},{"s":"100m","d":342.9,"v":13.53},{"s":"100m","d":344.6,"v":13.26},{"s":"100m","d":346.1,"v":12.85},{"s":"100m","d":347.7,"v":12.31},{"s":"100m","d":349.1,"v":12.99},{"s":"100m","d":350.6,"v":13.26},{"s":"100m","d":352.2,"v":13.6},{"s":"100m","d":353.7,"v":13.87},{"s":"100m","d":355.2,"v":13.74},{"s":"100m","d":357.0,"v":13.6},{"s":"100m","d":358.8,"v":13.67},{"s":"100m","d":359.8,"v":14.21},{"s":"100m","d":361.0,"v":15.29},{"s":"100m","d":362.4,"v":15.16},{"s":"100m","d":364.5,"v":15.02}
],
"p3":[
{"s":"10m","d":0,"v":0.00612},{"s":"10m","d":1.2,"v":0.00561},{"s":"10m","d":3.0,"v":0.0079},{"s":"10m","d":4.8,"v":0.00815},{"s":"10m","d":6.0,"v":0.00781},{"s":"10m","d":7.8,"v":0.00646},{"s":"10m","d":9.0,"v":0.00629},{"s":"10m","d":10.9,"v":0.00815},{"s":"10m","d":12.1,"v":0.00781},{"s":"10m","d":13.3,"v":0.00798},{"s":"10m","d":14.2,"v":0.00663},{"s":"10m","d":15.7,"v":0.00824},{"s":"10m","d":16.9,"v":0.00824},{"s":"10m","d":18.1,"v":0.00781},{"s":"10m","d":19.9,"v":0.00697},{"s":"10m","d":21.1,"v":0.00595},{"s":"10m","d":22.9,"v":0.00747},{"s":"10m","d":24.7,"v":0.00883},{"s":"10m","d":25.9,"v":0.00976},{"s":"10m","d":27.1,"v":0.00993},{"s":"10m","d":28.3,"v":0.00976},{"s":"10m","d":29.6,"v":0.00917},{"s":"10m","d":30.8,"v":0.00883},{"s":"10m","d":32.0,"v":0.00875},{"s":"10m","d":33.2,"v":0.00951},{"s":"10m","d":34.4,"v":0.00883},{"s":"10m","d":35.6,"v":0.00866},{"s":"10m","d":37.4,"v":0.00773},{"s":"10m","d":38.4,"v":0.00629},{"s":"10m","d":39.8,"v":0.00832},{"s":"10m","d":41.3,"v":0.00807},{"s":"10m","d":42.2,"v":0.00815},{"s":"10m","d":43.4,"v":0.00849},{"s":"10m","d":45.2,"v":0.01086},{"s":"10m","d":46.8,"v":0.01324},{"s":"10m","d":48.0,"v":0.014},{"s":"10m","d":49.2,"v":0.01324},{"s":"10m","d":50.7,"v":0.01171},{"s":"10m","d":52.1,"v":0.01019},{"s":"10m","d":53.1,"v":0.00866},{"s":"10m","d":54.3,"v":0.00985},{"s":"10m","d":55.5,"v":0.01154},{"s":"10m","d":56.9,"v":0.01408},{"s":"10m","d":58.5,"v":0.01581},{"s":"10m","d":59.7,"v":0.01476},{"s":"10m","d":60.9,"v":0.01366},{"s":"10m","d":62.1,"v":0.01358},{"s":"10m","d":63.1,"v":0.01476},{"s":"10m","d":64.2,"v":0.01519},{"s":"10m","d":65.8,"v":0.01425},{"s":"10m","d":67.6,"v":0.01298},{"s":"10m","d":68.8,"v":0.01341},{"s":"10m","d":70.0,"v":0.01417},{"s":"10m","d":71.8,"v":0.01315},{"s":"10m","d":73.6,"v":0.01383},{"s":"10m","d":75.4,"v":0.01425},{"s":"10m","d":77.0,"v":0.01324},{"s":"10m","d":78.4,"v":0.01222},{"s":"10m","d":80.2,"v":0.0112},{"s":"10m","d":82.0,"v":0.01341},{"s":"10m","d":84.4,"v":0.01527},{"s":"10m","d":85.9,"v":0.0168},{"s":"10m","d":87.1,"v":0.01612},{"s":"10m","d":88.1,"v":0.01527},{"s":"10m","d":89.3,"v":0.01493},{"s":"10m","d":90.7,"v":0.01392},{"s":"10m","d":91.9,"v":0.01247},{"s":"10m","d":93.5,"v":0.01264},{"s":"10m","d":94.7,"v":0.01324},{"s":"10m","d":96.7,"v":0.01366},{"s":"10m","d":98.3,"v":0.01307},{"s":"10m","d":100.1,"v":0.01222},{"s":"10m","d":101.9,"v":0.0112},{"s":"10m","d":103.1,"v":0.01163},{"s":"10m","d":104.7,"v":0.01086},{"s":"10m","d":106.2,"v":0.01103},{"s":"10m","d":107.6,"v":0.01019},{"s":"10m","d":109.2,"v":0.01036},{"s":"10m","d":110.7,"v":0.01053},{"s":"10m","d":112.0,"v":0.00951},{"s":"10m","d":113.2,"v":0.00883},{"s":"10m","d":114.6,"v":0.00934},{"s":"10m","d":116.4,"v":0.00968},{"s":"10m","d":118.2,"v":0.00917},{"s":"10m","d":120.0,"v":0.01002},{"s":"10m","d":121.9,"v":0.01154},
{"s":"10m","d":124.6,"v":0.01197},{"s":"10m","d":126.0,"v":0.01103},{"s":"10m","d":127.8,"v":0.01137},{"s":"10m","d":129.4,"v":0.01002},{"s":"10m","d":130.8,"v":0.009},{"s":"10m","d":132.7,"v":0.00798},{"s":"10m","d":134.2,"v":0.00731},{"s":"10m","d":135.7,"v":0.00663},{"s":"10m","d":137.5,"v":0.00781},{"s":"10m","d":139.1,"v":0.00866},{"s":"10m","d":140.5,"v":0.00849},{"s":"10m","d":142.3,"v":0.00824},{"s":"10m","d":144.1,"v":0.0079},{"s":"10m","d":145.9,"v":0.00747},{"s":"10m","d":147.7,"v":0.00731},{"s":"10m","d":149.5,"v":0.00731},{"s":"10m","d":151.1,"v":0.00739},{"s":"10m","d":152.8,"v":0.0068},{"s":"10m","d":154.4,"v":0.00603},{"s":"10m","d":155.9,"v":0.00578},{"s":"10m","d":157.4,"v":0.00595},{"s":"10m","d":159.2,"v":0.00527},{"s":"10m","d":160.4,"v":0.00485},{"s":"10m","d":161.6,"v":0.00493},{"s":"10m","d":163.4,"v":0.00578},{"s":"10m","d":165.2,"v":0.00637},{"s":"10m","d":167.0,"v":0.00569},{"s":"10m","d":168.8,"v":0.00544},{"s":"10m","d":170.7,"v":0.00476},{"s":"10m","d":172.5,"v":0.00451},{"s":"10m","d":174.3,"v":0.00442},{"s":"10m","d":176.1,"v":0.00425},{"s":"10m","d":177.9,"v":0.00434},{"s":"10m","d":179.7,"v":0.00425},{"s":"10m","d":181.5,"v":0.00434},{"s":"10m","d":183.0,"v":0.004},{"s":"10m","d":184.2,"v":0.0051},{"s":"10m","d":185.7,"v":0.00476},{"s":"10m","d":187.3,"v":0.00425},{"s":"10m","d":189.0,"v":0.00408},{"s":"10m","d":191.2,"v":0.00383},{"s":"10m","d":193.0,"v":0.00358},{"s":"10m","d":194.5,"v":0.00332},{"s":"10m","d":196.2,"v":0.00451},{"s":"10m","d":198.0,"v":0.00408},{"s":"10m","d":199.9,"v":0.00451},{"s":"10m","d":201.4,"v":0.00434},{"s":"10m","d":203.2,"v":0.00476},{"s":"10m","d":205.0,"v":0.00442},{"s":"10m","d":206.8,"v":0.00459},{"s":"10m","d":208.3,"v":0.00425},{"s":"10m","d":209.9,"v":0.00459},{"s":"10m","d":211.4,"v":0.00315},{"s":"10m","d":212.6,"v":0.00459},{"s":"10m","d":214.3,"v":0.00434},{"s":"10m","d":215.9,"v":0.00451},{"s":"10m","d":217.7,"v":0.00468},{"s":"10m","d":219.5,"v":0.00485},{"s":"10m","d":221.3,"v":0.00519},{"s":"10m","d":223.1,"v":0.00536},{"s":"10m","d":224.7,"v":0.00502},{"s":"10m","d":226.1,"v":0.00434},{"s":"10m","d":228.0,"v":0.00408},{"s":"10m","d":229.8,"v":0.00459},{"s":"10m","d":231.2,"v":0.00485},{"s":"10m","d":232.8,"v":0.00408},{"s":"10m","d":234.3,"v":0.00493},{"s":"10m","d":235.8,"v":0.00442},{"s":"10m","d":237.2,"v":0.00476},{"s":"10m","d":238.8,"v":0.00434},{"s":"10m","d":240.4,"v":0.00425},{"s":"10m","d":241.8,"v":0.00595},{"s":"10m","d":243.3,"v":0.00536},{"s":"10m","d":244.8,"v":0.00569},{"s":"10m","d":246.7,"v":0.00544},
{"s":"10m","d":249.0,"v":0.0051},{"s":"10m","d":250.8,"v":0.00502},{"s":"10m","d":252.6,"v":0.00485},{"s":"10m","d":254.1,"v":0.00392},{"s":"10m","d":255.7,"v":0.0051},{"s":"10m","d":257.2,"v":0.00629},{"s":"10m","d":258.7,"v":0.00561},{"s":"10m","d":260.1,"v":0.0051},{"s":"10m","d":261.3,"v":0.00646},{"s":"10m","d":262.9,"v":0.00663},{"s":"10m","d":264.1,"v":0.00629},{"s":"10m","d":265.9,"v":0.00781},{"s":"10m","d":267.1,"v":0.00832},{"s":"10m","d":268.9,"v":0.0079},{"s":"10m","d":270.1,"v":0.00781},{"s":"10m","d":271.3,"v":0.00714},{"s":"10m","d":272.5,"v":0.00646},{"s":"10m","d":273.8,"v":0.00578},{"s":"10m","d":275.6,"v":0.00595},{"s":"10m","d":276.8,"v":0.00561},{"s":"10m","d":278.6,"v":0.00544},{"s":"10m","d":280.1,"v":0.004},{"s":"10m","d":281.4,"v":0.00544},{"s":"10m","d":282.6,"v":0.00561},{"s":"10m","d":284.0,"v":0.00578},{"s":"10m","d":285.8,"v":0.00544},{"s":"10m","d":287.6,"v":0.00527},{"s":"10m","d":290.0,"v":0.00502},{"s":"10m","d":292.5,"v":0.00493},{"s":"10m","d":294.9,"v":0.00468},{"s":"10m","d":297.3,"v":0.00451},{"s":"10m","d":299.1,"v":0.00451},{"s":"10m","d":300.9,"v":0.00536},{"s":"10m","d":302.7,"v":0.00485},{"s":"10m","d":304.5,"v":0.00459},{"s":"10m","d":306.3,"v":0.00425},{"s":"10m","d":308.1,"v":0.0051},{"s":"10m","d":309.9,"v":0.00536},{"s":"10m","d":311.3,"v":0.00629},{"s":"10m","d":312.4,"v":0.00527},{"s":"10m","d":313.6,"v":0.00493},{"s":"10m","d":314.8,"v":0.00502},{"s":"10m","d":316.6,"v":0.00451},{"s":"10m","d":318.4,"v":0.00417},{"s":"10m","d":319.6,"v":0.00408},{"s":"10m","d":321.2,"v":0.00349},{"s":"10m","d":322.4,"v":0.00527},{"s":"10m","d":323.6,"v":0.00629},{"s":"10m","d":325.0,"v":0.00646},{"s":"10m","d":326.5,"v":0.0062},{"s":"10m","d":328.0,"v":0.00612},{"s":"10m","d":329.8,"v":0.00561},{"s":"10m","d":331.3,"v":0.00519},{"s":"10m","d":332.9,"v":0.00578},{"s":"10m","d":334.7,"v":0.00544},{"s":"10m","d":336.1,"v":0.00561},{"s":"10m","d":337.7,"v":0.00544},{"s":"10m","d":338.9,"v":0.00476},{"s":"10m","d":340.5,"v":0.00392},{"s":"10m","d":341.9,"v":0.00595},{"s":"10m","d":343.7,"v":0.00781},{"s":"10m","d":345.5,"v":0.0079},{"s":"10m","d":346.7,"v":0.00781},{"s":"10m","d":347.9,"v":0.00705},{"s":"10m","d":349.4,"v":0.00714},{"s":"10m","d":351.3,"v":0.00824},{"s":"10m","d":352.5,"v":0.00671},{"s":"10m","d":354.0,"v":0.00747},{"s":"10m","d":355.2,"v":0.00739},{"s":"10m","d":357.0,"v":0.00663},{"s":"10m","d":358.2,"v":0.00595},{"s":"10m","d":360.0,"v":0.00569},{"s":"10m","d":361.2,"v":0.00603},{"s":"10m","d":363.0,"v":0.00603},{"s":"10m","d":364.5,"v":0.00697},
{"s":"50m","d":0,"v":0.00502},{"s":"50m","d":1.2,"v":0.00544},{"s":"50m","d":3.0,"v":0.00561},{"s":"50m","d":4.8,"v":0.00544},{"s":"50m","d":6.3,"v":0.00561},{"s":"50m","d":7.8,"v":0.00536},{"s":"50m","d":9.7,"v":0.00527},{"s":"50m","d":11.5,"v":0.00502},{"s":"50m","d":13.3,"v":0.0051},{"s":"50m","d":14.5,"v":0.00485},{"s":"50m","d":15.7,"v":0.00536},{"s":"50m","d":17.5,"v":0.00544},{"s":"50m","d":19.3,"v":0.00544},{"s":"50m","d":21.1,"v":0.00553},{"s":"50m","d":22.9,"v":0.00629},{"s":"50m","d":24.7,"v":0.00654},{"s":"50m","d":26.6,"v":0.00646},{"s":"50m","d":28.3,"v":0.00663},{"s":"50m","d":29.9,"v":0.00629},{"s":"50m","d":31.4,"v":0.0068},{"s":"50m","d":32.3,"v":0.00714},{"s":"50m","d":33.5,"v":0.00663},{"s":"50m","d":35.0,"v":0.00663},{"s":"50m","d":36.2,"v":0.00654},{"s":"50m","d":38.0,"v":0.00612},{"s":"50m","d":39.2,"v":0.00561},{"s":"50m","d":40.4,"v":0.00646},{"s":"50m","d":42.2,"v":0.00671},{"s":"50m","d":44.0,"v":0.00731},{"s":"50m","d":45.8,"v":0.00781},{"s":"50m","d":47.6,"v":0.00883},{"s":"50m","d":49.5,"v":0.00883},{"s":"50m","d":51.3,"v":0.00841},{"s":"50m","d":52.8,"v":0.00829},{"s":"50m","d":54.3,"v":0.00934},{"s":"50m","d":56.1,"v":0.01069},{"s":"50m","d":57.3,"v":0.01137},{"s":"50m","d":58.5,"v":0.01202},{"s":"50m","d":60.3,"v":0.01086},{"s":"50m","d":62.1,"v":0.01163},{"s":"50m","d":63.9,"v":0.0118},{"s":"50m","d":65.7,"v":0.01129},{"s":"50m","d":67.6,"v":0.01086},{"s":"50m","d":69.4,"v":0.01069},{"s":"50m","d":71.2,"v":0.01107},{"s":"50m","d":73.0,"v":0.01061},{"s":"50m","d":74.8,"v":0.01036},{"s":"50m","d":76.6,"v":0.01019},{"s":"50m","d":78.6,"v":0.00998},{"s":"50m","d":80.2,"v":0.01086},{"s":"50m","d":82.0,"v":0.01154},{"s":"50m","d":83.8,"v":0.0129},{"s":"50m","d":85.6,"v":0.01408},{"s":"50m","d":86.9,"v":0.01392},{"s":"50m","d":88.1,"v":0.01358},{"s":"50m","d":89.3,"v":0.01307},{"s":"50m","d":90.5,"v":0.01239},{"s":"50m","d":91.7,"v":0.01154},{"s":"50m","d":92.9,"v":0.01154},{"s":"50m","d":94.7,"v":0.01163},{"s":"50m","d":95.9,"v":0.01103},{"s":"50m","d":97.7,"v":0.01053},{"s":"50m","d":99.5,"v":0.00985},{"s":"50m","d":101.3,"v":0.00883},{"s":"50m","d":102.8,"v":0.00866},{"s":"50m","d":104.3,"v":0.00866},{"s":"50m","d":105.5,"v":0.00815},{"s":"50m","d":106.8,"v":0.0079},{"s":"50m","d":108.3,"v":0.00832},{"s":"50m","d":109.8,"v":0.00798},{"s":"50m","d":111.6,"v":0.00756},{"s":"50m","d":112.8,"v":0.00747},{"s":"50m","d":114.0,"v":0.00739},{"s":"50m","d":115.6,"v":0.00781},{"s":"50m","d":117.0,"v":0.00815},{"s":"50m","d":118.8,"v":0.00866},{"s":"50m","d":120.9,"v":0.00964},{"s":"50m","d":122.5,"v":0.00883},
{"s":"50m","d":124.2,"v":0.00875},{"s":"50m","d":126.0,"v":0.00875},{"s":"50m","d":127.8,"v":0.00841},{"s":"50m","d":129.6,"v":0.00798},{"s":"50m","d":131.5,"v":0.00731},{"s":"50m","d":133.3,"v":0.0068},{"s":"50m","d":135.1,"v":0.00646},{"s":"50m","d":136.9,"v":0.00697},{"s":"50m","d":138.1,"v":0.0068},{"s":"50m","d":139.9,"v":0.00663},{"s":"50m","d":141.7,"v":0.00646},{"s":"50m","d":143.2,"v":0.00663},{"s":"50m","d":144.7,"v":0.00629},{"s":"50m","d":146.5,"v":0.00578},{"s":"50m","d":148.3,"v":0.00536},{"s":"50m","d":150.1,"v":0.00519},{"s":"50m","d":152.0,"v":0.00553},{"s":"50m","d":153.2,"v":0.00561},{"s":"50m","d":155.0,"v":0.00519},{"s":"50m","d":156.8,"v":0.00493},{"s":"50m","d":158.6,"v":0.00476},{"s":"50m","d":160.4,"v":0.00434},{"s":"50m","d":162.2,"v":0.00417},{"s":"50m","d":164.0,"v":0.00434},{"s":"50m","d":166.4,"v":0.00451},{"s":"50m","d":168.8,"v":0.00451},{"s":"50m","d":170.7,"v":0.00417},{"s":"50m","d":172.5,"v":0.00383},{"s":"50m","d":174.3,"v":0.00341},{"s":"50m","d":177.9,"v":0.00358},{"s":"50m","d":181.5,"v":0.00349},{"s":"50m","d":185.1,"v":0.00341},{"s":"50m","d":188.8,"v":0.00324},{"s":"50m","d":192.4,"v":0.00307},{"s":"50m","d":196.0,"v":0.00298},{"s":"50m","d":199.6,"v":0.00307},{"s":"50m","d":203.2,"v":0.00307},{"s":"50m","d":205.6,"v":0.00293},{"s":"50m","d":208.7,"v":0.00264},{"s":"50m","d":212.3,"v":0.00225},{"s":"50m","d":215.9,"v":0.00247},{"s":"50m","d":219.5,"v":0.00247},{"s":"50m","d":223.1,"v":0.00239},{"s":"50m","d":226.8,"v":0.00222},{"s":"50m","d":230.4,"v":0.00208},{"s":"50m","d":234.0,"v":0.002},{"s":"50m","d":237.6,"v":0.00205},{"s":"50m","d":241.2,"v":0.00205},{"s":"50m","d":244.8,"v":0.00202},
{"s":"50m","d":249.0,"v":0.00208},{"s":"50m","d":253.9,"v":0.0021},{"s":"50m","d":258.7,"v":0.00217},{"s":"50m","d":261.1,"v":0.00222},{"s":"50m","d":262.9,"v":0.00239},{"s":"50m","d":264.7,"v":0.00281},{"s":"50m","d":266.5,"v":0.00341},{"s":"50m","d":268.3,"v":0.00375},{"s":"50m","d":269.5,"v":0.00378},{"s":"50m","d":270.7,"v":0.00358},{"s":"50m","d":272.2,"v":0.00324},{"s":"50m","d":273.8,"v":0.0029},{"s":"50m","d":275.6,"v":0.00264},{"s":"50m","d":277.4,"v":0.00247},{"s":"50m","d":279.2,"v":0.00234},{"s":"50m","d":281.0,"v":0.00242},{"s":"50m","d":282.8,"v":0.00231},{"s":"50m","d":286.4,"v":0.00225},{"s":"50m","d":290.0,"v":0.00231},{"s":"50m","d":291.8,"v":0.00236},{"s":"50m","d":293.7,"v":0.00253},{"s":"50m","d":295.5,"v":0.00247},{"s":"50m","d":297.3,"v":0.00231},{"s":"50m","d":299.1,"v":0.00219},{"s":"50m","d":300.9,"v":0.00214},{"s":"50m","d":302.7,"v":0.00214},{"s":"50m","d":304.5,"v":0.00225},{"s":"50m","d":306.3,"v":0.00222},{"s":"50m","d":308.1,"v":0.00247},{"s":"50m","d":309.3,"v":0.00219},{"s":"50m","d":311.1,"v":0.00205},{"s":"50m","d":312.9,"v":0.00197},{"s":"50m","d":314.8,"v":0.00185},{"s":"50m","d":316.6,"v":0.0018},{"s":"50m","d":320.2,"v":0.00175},{"s":"50m","d":322.0,"v":0.00197},{"s":"50m","d":323.8,"v":0.00231},{"s":"50m","d":325.6,"v":0.00259},{"s":"50m","d":327.4,"v":0.00253},{"s":"50m","d":329.2,"v":0.00242},{"s":"50m","d":332.9,"v":0.00242},{"s":"50m","d":336.5,"v":0.00236},{"s":"50m","d":339.5,"v":0.00225},{"s":"50m","d":340.5,"v":0.0029},{"s":"50m","d":341.3,"v":0.00425},{"s":"50m","d":342.5,"v":0.00459},{"s":"50m","d":343.7,"v":0.00468},{"s":"50m","d":344.9,"v":0.00493},{"s":"50m","d":346.5,"v":0.00468},{"s":"50m","d":347.9,"v":0.00451},{"s":"50m","d":349.8,"v":0.00451},{"s":"50m","d":351.6,"v":0.00442},{"s":"50m","d":353.4,"v":0.00442},{"s":"50m","d":354.6,"v":0.00451},{"s":"50m","d":356.4,"v":0.00425},{"s":"50m","d":358.2,"v":0.004},{"s":"50m","d":360.0,"v":0.00375},{"s":"50m","d":361.8,"v":0.00341},{"s":"50m","d":363.0,"v":0.00324},{"s":"50m","d":364.5,"v":0.00332},
{"s":"100m","d":0,"v":0.00324},{"s":"100m","d":1.8,"v":0.00341},{"s":"100m","d":3.6,"v":0.00324},{"s":"100m","d":5.4,"v":0.00324},{"s":"100m","d":7.3,"v":0.00315},{"s":"100m","d":9.0,"v":0.0031},{"s":"100m","d":10.9,"v":0.0031},{"s":"100m","d":12.1,"v":0.00332},{"s":"100m","d":13.9,"v":0.00315},{"s":"100m","d":15.7,"v":0.0032},{"s":"100m","d":17.5,"v":0.00324},{"s":"100m","d":19.3,"v":0.00332},{"s":"100m","d":21.1,"v":0.00341},{"s":"100m","d":22.9,"v":0.00349},{"s":"100m","d":24.7,"v":0.00383},{"s":"100m","d":26.6,"v":0.00408},{"s":"100m","d":27.7,"v":0.00434},{"s":"100m","d":29.2,"v":0.00392},{"s":"100m","d":30.8,"v":0.00375},{"s":"100m","d":32.6,"v":0.00392},{"s":"100m","d":34.4,"v":0.004},{"s":"100m","d":36.2,"v":0.00408},{"s":"100m","d":38.0,"v":0.00417},{"s":"100m","d":39.2,"v":0.00408},{"s":"100m","d":40.8,"v":0.0051},{"s":"100m","d":42.2,"v":0.00646},{"s":"100m","d":43.7,"v":0.00688},{"s":"100m","d":45.2,"v":0.00697},{"s":"100m","d":47.0,"v":0.00722},{"s":"100m","d":48.9,"v":0.00739},{"s":"100m","d":50.7,"v":0.00697},{"s":"100m","d":52.5,"v":0.00663},{"s":"100m","d":53.7,"v":0.00731},{"s":"100m","d":55.5,"v":0.00832},{"s":"100m","d":56.9,"v":0.00934},{"s":"100m","d":58.5,"v":0.01002},{"s":"100m","d":60.3,"v":0.00968},{"s":"100m","d":61.5,"v":0.00917},{"s":"100m","d":63.3,"v":0.00959},{"s":"100m","d":65.1,"v":0.00993},{"s":"100m","d":66.9,"v":0.00942},{"s":"100m","d":68.8,"v":0.00908},{"s":"100m","d":70.6,"v":0.00849},{"s":"100m","d":72.4,"v":0.00866},{"s":"100m","d":74.2,"v":0.00866},{"s":"100m","d":76.0,"v":0.00841},{"s":"100m","d":77.4,"v":0.00815},{"s":"100m","d":79.0,"v":0.00773},{"s":"100m","d":80.8,"v":0.00849},{"s":"100m","d":82.6,"v":0.00985},{"s":"100m","d":84.4,"v":0.01112},{"s":"100m","d":85.9,"v":0.01205},{"s":"100m","d":87.1,"v":0.01171},{"s":"100m","d":88.3,"v":0.01095},{"s":"100m","d":89.5,"v":0.01086},{"s":"100m","d":91.1,"v":0.01019},{"s":"100m","d":92.3,"v":0.00942},{"s":"100m","d":93.9,"v":0.01002},{"s":"100m","d":95.3,"v":0.00993},{"s":"100m","d":97.1,"v":0.00934},{"s":"100m","d":98.9,"v":0.00832},{"s":"100m","d":100.7,"v":0.00764},{"s":"100m","d":102.5,"v":0.00747},{"s":"100m","d":104.3,"v":0.00739},{"s":"100m","d":106.2,"v":0.00697},{"s":"100m","d":107.4,"v":0.00714},{"s":"100m","d":109.2,"v":0.0068},{"s":"100m","d":111.0,"v":0.0068},{"s":"100m","d":112.2,"v":0.00629},{"s":"100m","d":113.4,"v":0.00595},{"s":"100m","d":115.2,"v":0.0062},{"s":"100m","d":117.0,"v":0.00646},{"s":"100m","d":118.8,"v":0.00714},{"s":"100m","d":120.6,"v":0.00781},{"s":"100m","d":122.5,"v":0.00747},
{"s":"100m","d":124.8,"v":0.00731},{"s":"100m","d":126.6,"v":0.00697},{"s":"100m","d":128.4,"v":0.0068},{"s":"100m","d":130.2,"v":0.00646},{"s":"100m","d":132.1,"v":0.00612},{"s":"100m","d":133.9,"v":0.00586},{"s":"100m","d":135.7,"v":0.00569},{"s":"100m","d":137.5,"v":0.00578},{"s":"100m","d":139.3,"v":0.00569},{"s":"100m","d":141.1,"v":0.00586},{"s":"100m","d":142.9,"v":0.00595},{"s":"100m","d":144.7,"v":0.00569},{"s":"100m","d":146.5,"v":0.00544},{"s":"100m","d":148.3,"v":0.00519},{"s":"100m","d":150.1,"v":0.0051},{"s":"100m","d":152.0,"v":0.00553},{"s":"100m","d":153.2,"v":0.00561},{"s":"100m","d":155.0,"v":0.00527},{"s":"100m","d":156.8,"v":0.00493},{"s":"100m","d":158.6,"v":0.00468},{"s":"100m","d":160.4,"v":0.00434},{"s":"100m","d":162.2,"v":0.00417},{"s":"100m","d":165.8,"v":0.00425},{"s":"100m","d":167.6,"v":0.00434},{"s":"100m","d":169.5,"v":0.00417},{"s":"100m","d":171.3,"v":0.00392},{"s":"100m","d":173.1,"v":0.00366},{"s":"100m","d":174.9,"v":0.00341},{"s":"100m","d":178.5,"v":0.00332},{"s":"100m","d":182.1,"v":0.00332},{"s":"100m","d":185.7,"v":0.00332},{"s":"100m","d":189.4,"v":0.00315},{"s":"100m","d":193.0,"v":0.00303},{"s":"100m","d":196.6,"v":0.00303},{"s":"100m","d":200.2,"v":0.0031},{"s":"100m","d":203.8,"v":0.00315},{"s":"100m","d":205.6,"v":0.00307},{"s":"100m","d":209.3,"v":0.00273},{"s":"100m","d":212.9,"v":0.00256},{"s":"100m","d":216.5,"v":0.00253},{"s":"100m","d":220.1,"v":0.00253},{"s":"100m","d":223.7,"v":0.00242},{"s":"100m","d":227.4,"v":0.00225},{"s":"100m","d":231.0,"v":0.00214},{"s":"100m","d":234.6,"v":0.00214},{"s":"100m","d":238.2,"v":0.00219},{"s":"100m","d":241.8,"v":0.0021},{"s":"100m","d":245.4,"v":0.00205},
{"s":"100m","d":249.0,"v":0.00208},{"s":"100m","d":253.9,"v":0.00214},{"s":"100m","d":258.7,"v":0.00205},{"s":"100m","d":263.5,"v":0.00197},{"s":"100m","d":268.3,"v":0.00188},{"s":"100m","d":273.2,"v":0.0018},{"s":"100m","d":278.0,"v":0.00171},{"s":"100m","d":280.4,"v":0.00188},{"s":"100m","d":285.2,"v":0.00192},{"s":"100m","d":290.0,"v":0.00197},{"s":"100m","d":294.9,"v":0.00214},{"s":"100m","d":299.7,"v":0.00208},{"s":"100m","d":304.5,"v":0.00208},{"s":"100m","d":309.3,"v":0.00208},{"s":"100m","d":314.2,"v":0.00185},{"s":"100m","d":319.0,"v":0.0018},{"s":"100m","d":323.8,"v":0.00197},{"s":"100m","d":328.6,"v":0.00214},{"s":"100m","d":333.5,"v":0.00236},{"s":"100m","d":338.3,"v":0.00253},{"s":"100m","d":343.1,"v":0.00247},{"s":"100m","d":347.9,"v":0.00251},{"s":"100m","d":352.8,"v":0.00247},{"s":"100m","d":357.6,"v":0.00247},{"s":"100m","d":362.4,"v":0.00247},{"s":"100m","d":364.5,"v":0.00242},
{"s":"500m","d":0,"v":0.00358},{"s":"500m","d":3.6,"v":0.00366},{"s":"500m","d":7.3,"v":0.00358},{"s":"500m","d":10.9,"v":0.00344},{"s":"500m","d":14.5,"v":0.00315},{"s":"500m","d":18.1,"v":0.00324},{"s":"500m","d":21.7,"v":0.0032},{"s":"500m","d":25.3,"v":0.00293},{"s":"500m","d":29.0,"v":0.00281},{"s":"500m","d":32.6,"v":0.00269},{"s":"500m","d":34.4,"v":0.00264},{"s":"500m","d":38.0,"v":0.00276},{"s":"500m","d":41.6,"v":0.00269},{"s":"500m","d":43.4,"v":0.00264},{"s":"500m","d":47.0,"v":0.00293},{"s":"500m","d":50.7,"v":0.0031},{"s":"500m","d":52.5,"v":0.00307},{"s":"500m","d":53.7,"v":0.00332},{"s":"500m","d":55.5,"v":0.00408},{"s":"500m","d":57.3,"v":0.00451},{"s":"500m","d":59.1,"v":0.00459},{"s":"500m","d":62.7,"v":0.00459},{"s":"500m","d":66.3,"v":0.00451},{"s":"500m","d":70.0,"v":0.00434},{"s":"500m","d":73.6,"v":0.00425},{"s":"500m","d":77.2,"v":0.00408},{"s":"500m","d":79.0,"v":0.004},{"s":"500m","d":80.2,"v":0.00408},{"s":"500m","d":81.8,"v":0.0051},{"s":"500m","d":83.5,"v":0.00561},{"s":"500m","d":85.9,"v":0.00595},{"s":"500m","d":87.7,"v":0.00578},{"s":"500m","d":89.5,"v":0.00561},{"s":"500m","d":91.3,"v":0.00541},{"s":"500m","d":92.9,"v":0.00553},{"s":"500m","d":94.7,"v":0.00558},{"s":"500m","d":96.5,"v":0.00544},{"s":"500m","d":98.3,"v":0.00519},{"s":"500m","d":99.9,"v":0.00485},{"s":"500m","d":101.6,"v":0.00459},{"s":"500m","d":103.1,"v":0.00476},{"s":"500m","d":104.9,"v":0.00493},{"s":"500m","d":106.8,"v":0.00485},{"s":"500m","d":108.6,"v":0.00476},{"s":"500m","d":110.4,"v":0.00451},{"s":"500m","d":112.2,"v":0.00425},{"s":"500m","d":114.0,"v":0.00408},{"s":"500m","d":115.8,"v":0.00395},{"s":"500m","d":117.6,"v":0.00383},{"s":"500m","d":119.4,"v":0.00392},{"s":"500m","d":121.2,"v":0.00425},{"s":"500m","d":122.8,"v":0.00442},
{"s":"500m","d":124.8,"v":0.004},{"s":"500m","d":126.6,"v":0.00383},{"s":"500m","d":130.2,"v":0.00388},{"s":"500m","d":133.9,"v":0.00371},{"s":"500m","d":137.5,"v":0.00361},{"s":"500m","d":141.1,"v":0.00349},{"s":"500m","d":144.7,"v":0.00341},{"s":"500m","d":148.3,"v":0.00327},{"s":"500m","d":150.1,"v":0.00324},{"s":"500m","d":152.0,"v":0.00341},{"s":"500m","d":155.6,"v":0.00341},{"s":"500m","d":159.2,"v":0.00324},{"s":"500m","d":162.8,"v":0.00307},{"s":"500m","d":166.4,"v":0.00281},{"s":"500m","d":168.2,"v":0.00286},{"s":"500m","d":170.1,"v":0.0029},{"s":"500m","d":173.7,"v":0.00273},{"s":"500m","d":177.3,"v":0.00242},{"s":"500m","d":180.9,"v":0.00219},{"s":"500m","d":184.5,"v":0.00219},{"s":"500m","d":188.1,"v":0.00214},{"s":"500m","d":191.8,"v":0.00205},{"s":"500m","d":195.4,"v":0.00197},{"s":"500m","d":199.0,"v":0.00197},{"s":"500m","d":202.6,"v":0.00197},{"s":"500m","d":206.2,"v":0.00192},{"s":"500m","d":209.9,"v":0.00188},{"s":"500m","d":213.5,"v":0.00188},{"s":"500m","d":217.1,"v":0.00188},{"s":"500m","d":220.7,"v":0.00185},{"s":"500m","d":224.3,"v":0.00185},{"s":"500m","d":228.0,"v":0.0018},{"s":"500m","d":231.6,"v":0.00176},{"s":"500m","d":235.2,"v":0.00175},{"s":"500m","d":238.8,"v":0.00175},{"s":"500m","d":242.4,"v":0.00171},{"s":"500m","d":246.0,"v":0.00163},
{"s":"500m","d":249.0,"v":0.00154},{"s":"500m","d":253.9,"v":0.00151},{"s":"500m","d":258.7,"v":0.00154},{"s":"500m","d":263.5,"v":0.00151},{"s":"500m","d":268.3,"v":0.00151},{"s":"500m","d":273.2,"v":0.00141},{"s":"500m","d":278.0,"v":0.00146},{"s":"500m","d":282.8,"v":0.00146},{"s":"500m","d":287.6,"v":0.00142},{"s":"500m","d":292.5,"v":0.00146},{"s":"500m","d":297.3,"v":0.00146},{"s":"500m","d":302.1,"v":0.00158},{"s":"500m","d":306.9,"v":0.00163},{"s":"500m","d":311.8,"v":0.00171},{"s":"500m","d":316.6,"v":0.0018},{"s":"500m","d":321.4,"v":0.00175},{"s":"500m","d":326.2,"v":0.00163},{"s":"500m","d":331.0,"v":0.00154},{"s":"500m","d":335.9,"v":0.00168},{"s":"500m","d":340.7,"v":0.00171},{"s":"500m","d":345.5,"v":0.00168},{"s":"500m","d":350.4,"v":0.00175},{"s":"500m","d":355.2,"v":0.00188},{"s":"500m","d":360.0,"v":0.00188},{"s":"500m","d":364.5,"v":0.00185}
]
},
"vconcat":[
{"width":1010,"height":394,
"title":"Evolution de l'indice basé sur la curvilinéarité de densité dans le domaine à differentes profondeurs",
"layer":[
{"data":{"name":"bands"},"mark":{"type":"rect"},"encoding":{"x":{"field":"d","type":"quantitative","scale":{"domain":[0,365],"nice":false},"axis":{"values":[0,30,61,92,120,151,181,212,242,273,304,334,365],"labelExpr":"['11','12','01','02','03','04','05','06','07','08','09','10','11'][indexof([0,30,61,92,120,151,181,212,242,273,304,334,365], datum.value)]","title":null,"labelPadding":8}},"x2":{"field":"d2"},"fill":{"field":"k","type":"nominal","scale":{"domain":["b","g","y"],"range":["#abb1f2","#a3f1a3","#faf3b3"]},"legend":null}}},
{"data":{"name":"vmin"},"mark":{"type":"rule","color":"#b0b0b0","strokeDash":[1,2]},"encoding":{"x":{"field":"d","type":"quantitative","scale":{"domain":[0,365],"nice":false},"axis":{"values":[0,30,61,92,120,151,181,212,242,273,304,334,365],"labelExpr":"['11','12','01','02','03','04','05','06','07','08','09','10','11'][indexof([0,30,61,92,120,151,181,212,242,273,304,334,365], datum.value)]","title":null,"labelPadding":8}}}},
{"data":{"values":[{"v":3},{"v":5},{"v":7},{"v":9},{"v":11}]},"mark":{"type":"rule","color":"#b0b0b0","strokeDash":[1,2]},"encoding":{"y":{"field":"v","type":"quantitative","scale":{"domain":[2,12],"nice":false,"zero":false},"axis":{"values":[2,4,6,8,10,12],"title":"Curv index","labelPadding":4,"titlePadding":5}}}},
{"data":{"name":"vmaj"},"mark":{"type":"rule","color":"#6e6e6e"},"encoding":{"x":{"field":"d","type":"quantitative","scale":{"domain":[0,365],"nice":false},"axis":{"values":[0,30,61,92,120,151,181,212,242,273,304,334,365],"labelExpr":"['11','12','01','02','03','04','05','06','07','08','09','10','11'][indexof([0,30,61,92,120,151,181,212,242,273,304,334,365], datum.value)]","title":null,"labelPadding":8}}}},
{"data":{"values":[{"v":4},{"v":6},{"v":8},{"v":10}]},"mark":{"type":"rule","color":"#6e6e6e"},"encoding":{"y":{"field":"v","type":"quantitative","scale":{"domain":[2,12],"nice":false,"zero":false},"axis":{"values":[2,4,6,8,10,12],"title":"Curv index","labelPadding":4,"titlePadding":5}}}},
{"data":{"name":"p1"},"mark":{"type":"line","strokeWidth":2},"encoding":{
"x":{"field":"d","type":"quantitative","scale":{"domain":[0,365],"nice":false},"axis":{"values":[0,30,61,92,120,151,181,212,242,273,304,334,365],"labelExpr":"['11','12','01','02','03','04','05','06','07','08','09','10','11'][indexof([0,30,61,92,120,151,181,212,242,273,304,334,365], datum.value)]","title":null,"labelPadding":8}},
"y":{"field":"v","type":"quantitative","scale":{"domain":[2,12],"nice":false,"zero":false},"axis":{"values":[2,4,6,8,10,12],"title":"Curv index","labelPadding":4,"titlePadding":5}},
"color":{"field":"s","type":"nominal","scale":{"domain":["50m","100m"],"range":["#000000","#e8141c"]},"legend":{"title":null}}}}
]},
{"width":1010,"height":394,
"title":"Evolution de l'indice basé sur la vorticité dans le domaine à differentes profondeurs",
"layer":[
{"data":{"name":"bands"},"mark":{"type":"rect"},"encoding":{"x":{"field":"d","type":"quantitative","scale":{"domain":[0,365],"nice":false},"axis":{"values":[0,30,61,92,120,151,181,212,242,273,304,334,365],"labelExpr":"['11','12','01','02','03','04','05','06','07','08','09','10','11'][indexof([0,30,61,92,120,151,181,212,242,273,304,334,365], datum.value)]","title":null,"labelPadding":8}},"x2":{"field":"d2"},"fill":{"field":"k","type":"nominal","scale":{"domain":["b","g","y"],"range":["#abb1f2","#a3f1a3","#faf3b3"]},"legend":null}}},
{"data":{"name":"vmin"},"mark":{"type":"rule","color":"#b0b0b0","strokeDash":[1,2]},"encoding":{"x":{"field":"d","type":"quantitative","scale":{"domain":[0,365],"nice":false},"axis":{"values":[0,30,61,92,120,151,181,212,242,273,304,334,365],"labelExpr":"['11','12','01','02','03','04','05','06','07','08','09','10','11'][indexof([0,30,61,92,120,151,181,212,242,273,304,334,365], datum.value)]","title":null,"labelPadding":8}}}},
{"data":{"values":[{"v":9},{"v":11},{"v":13},{"v":15},{"v":17},{"v":19},{"v":21},{"v":23}]},"mark":{"type":"rule","color":"#b0b0b0","strokeDash":[1,2]},"encoding":{"y":{"field":"v","type":"quantitative","scale":{"domain":[8,24],"nice":false,"zero":false},"axis":{"values":[8,10,12,14,16,18,20,22,24],"title":"vortex index","labelPadding":4,"titlePadding":5}}}},
{"data":{"name":"vmaj"},"mark":{"type":"rule","color":"#6e6e6e"},"encoding":{"x":{"field":"d","type":"quantitative","scale":{"domain":[0,365],"nice":false},"axis":{"values":[0,30,61,92,120,151,181,212,242,273,304,334,365],"labelExpr":"['11','12','01','02','03','04','05','06','07','08','09','10','11'][indexof([0,30,61,92,120,151,181,212,242,273,304,334,365], datum.value)]","title":null,"labelPadding":8}}}},
{"data":{"values":[{"v":10},{"v":12},{"v":14},{"v":16},{"v":18},{"v":20},{"v":22}]},"mark":{"type":"rule","color":"#6e6e6e"},"encoding":{"y":{"field":"v","type":"quantitative","scale":{"domain":[8,24],"nice":false,"zero":false},"axis":{"values":[8,10,12,14,16,18,20,22,24],"title":"vortex index","labelPadding":4,"titlePadding":5}}}},
{"data":{"name":"p2"},"mark":{"type":"line","strokeWidth":2},"encoding":{
"x":{"field":"d","type":"quantitative","scale":{"domain":[0,365],"nice":false},"axis":{"values":[0,30,61,92,120,151,181,212,242,273,304,334,365],"labelExpr":"['11','12','01','02','03','04','05','06','07','08','09','10','11'][indexof([0,30,61,92,120,151,181,212,242,273,304,334,365], datum.value)]","title":null,"labelPadding":8}},
"y":{"field":"v","type":"quantitative","scale":{"domain":[8,24],"nice":false,"zero":false},"axis":{"values":[8,10,12,14,16,18,20,22,24],"title":"vortex index","labelPadding":4,"titlePadding":5}},
"color":{"field":"s","type":"nominal","scale":{"domain":["50m","100m"],"range":["#000000","#e8141c"]},"legend":{"title":null}}}}
]},
{"width":1010,"height":395,
"title":"Evolution de l'EKE dans le domaine à differentes profondeurs",
"layer":[
{"data":{"name":"bands"},"mark":{"type":"rect"},"encoding":{"x":{"field":"d","type":"quantitative","scale":{"domain":[0,365],"nice":false},"axis":{"values":[0,30,61,92,120,151,181,212,242,273,304,334,365],"labelExpr":"['11','12','01','02','03','04','05','06','07','08','09','10','11'][indexof([0,30,61,92,120,151,181,212,242,273,304,334,365], datum.value)]","title":null,"labelPadding":8}},"x2":{"field":"d2"},"fill":{"field":"k","type":"nominal","scale":{"domain":["b","g","y"],"range":["#abb1f2","#a3f1a3","#faf3b3"]},"legend":null}}},
{"data":{"name":"vmin"},"mark":{"type":"rule","color":"#b0b0b0","strokeDash":[1,2]},"encoding":{"x":{"field":"d","type":"quantitative","scale":{"domain":[0,365],"nice":false},"axis":{"values":[0,30,61,92,120,151,181,212,242,273,304,334,365],"labelExpr":"['11','12','01','02','03','04','05','06','07','08','09','10','11'][indexof([0,30,61,92,120,151,181,212,242,273,304,334,365], datum.value)]","title":null,"labelPadding":8}}}},
{"data":{"values":[{"v":0.0025},{"v":0.0075},{"v":0.0125},{"v":0.0175}]},"mark":{"type":"rule","color":"#b0b0b0","strokeDash":[1,2]},"encoding":{"y":{"field":"v","type":"quantitative","scale":{"domain":[0,0.02],"nice":false,"zero":false},"axis":{"values":[0,0.005,0.01,0.015,0.02],"format":"~g","title":"EKE (m²/s²)","labelPadding":4,"titlePadding":5}}}},
{"data":{"name":"vmaj"},"mark":{"type":"rule","color":"#6e6e6e"},"encoding":{"x":{"field":"d","type":"quantitative","scale":{"domain":[0,365],"nice":false},"axis":{"values":[0,30,61,92,120,151,181,212,242,273,304,334,365],"labelExpr":"['11','12','01','02','03','04','05','06','07','08','09','10','11'][indexof([0,30,61,92,120,151,181,212,242,273,304,334,365], datum.value)]","title":null,"labelPadding":8}}}},
{"data":{"values":[{"v":0.005},{"v":0.01},{"v":0.015}]},"mark":{"type":"rule","color":"#6e6e6e"},"encoding":{"y":{"field":"v","type":"quantitative","scale":{"domain":[0,0.02],"nice":false,"zero":false},"axis":{"values":[0,0.005,0.01,0.015,0.02],"format":"~g","title":"EKE (m²/s²)","labelPadding":4,"titlePadding":5}}}},
{"data":{"name":"p3"},"mark":{"type":"line","strokeWidth":2},"encoding":{
"x":{"field":"d","type":"quantitative","scale":{"domain":[0,365],"nice":false},"axis":{"values":[0,30,61,92,120,151,181,212,242,273,304,334,365],"labelExpr":"['11','12','01','02','03','04','05','06','07','08','09','10','11'][indexof([0,30,61,92,120,151,181,212,242,273,304,334,365], datum.value)]","title":null,"labelPadding":8}},
"y":{"field":"v","type":"quantitative","scale":{"domain":[0,0.02],"nice":false,"zero":false},"axis":{"values":[0,0.005,0.01,0.015,0.02],"format":"~g","title":"EKE (m²/s²)","labelPadding":4,"titlePadding":5}},
"color":{"field":"s","type":"nominal","scale":{"domain":["10m","50m","100m","500m"],"range":["#1414c8","#000000","#e8141c","#33cc33"]},"legend":{"title":null}}}}
]}
]
}
